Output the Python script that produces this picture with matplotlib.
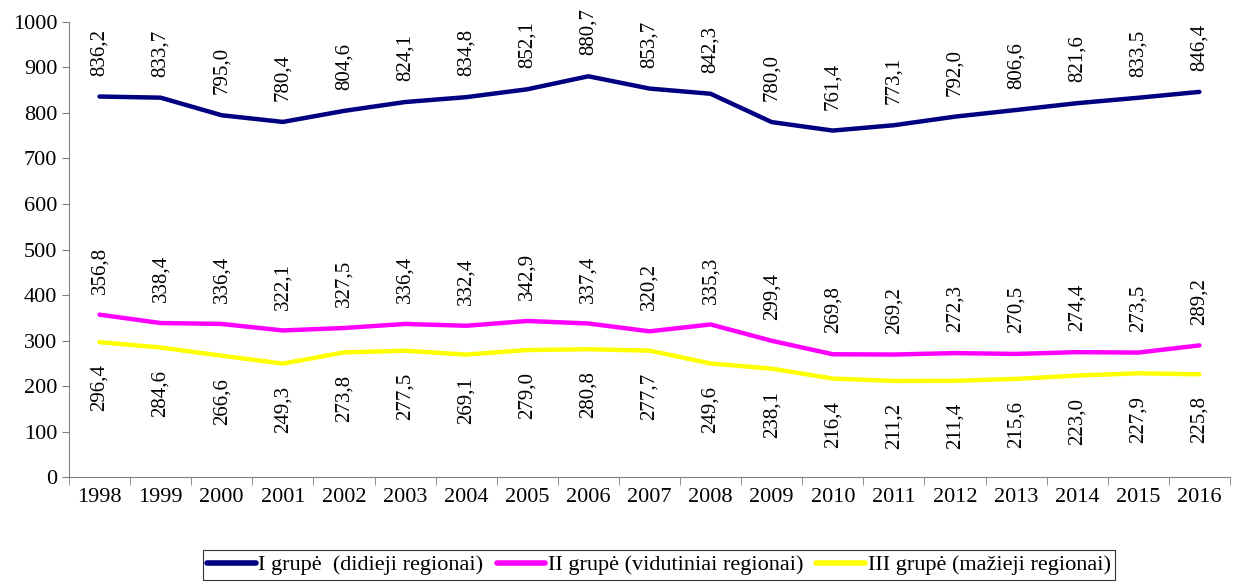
import matplotlib.pyplot as plt
import numpy as np

plt.rcParams['font.family'] = ['Liberation Serif', 'DejaVu Serif']

years = [str(y) for y in range(1998, 2017)]
grupe_1 = [836.2, 833.7, 795.0, 780.4, 804.6, 824.1, 834.8, 852.1, 880.7, 853.7,
           842.3, 780.0, 761.4, 773.1, 792.0, 806.6, 821.6, 833.5, 846.4]
grupe_2 = [356.8, 338.4, 336.4, 322.1, 327.5, 336.4, 332.4, 342.9, 337.4, 320.2,
           335.3, 299.4, 269.8, 269.2, 272.3, 270.5, 274.4, 273.5, 289.2]
grupe_3 = [296.4, 284.6, 266.6, 249.3, 273.8, 277.5, 269.1, 279.0, 280.8, 277.7,
           249.6, 238.1, 216.4, 211.2, 211.4, 215.6, 223.0, 227.9, 225.8]
names = ['I grupė  (didieji regionai)', 'II grupė (vidutiniai regionai)',
         'III grupė (mažieji regionai)']
colors = ['#000080', '#FF00FF', '#FFFF00']

fig = plt.figure(figsize=(12.43, 5.85), dpi=100)
ax = fig.add_axes([0.0555, 0.1846, 0.934, 0.7778])

x = np.arange(len(years))
series = [grupe_1, grupe_2, grupe_3]
for vals, name, c in zip(series, names, colors):
    ax.plot(x, vals, color=c, lw=3.2, label=name, solid_capstyle='round')

def fmt(v):
    return f'{v:.1f}'.replace('.', ',')

# nad linijomis: I ir II grupė, po linija: III grupė
for vals, above in [(grupe_1, True), (grupe_2, True), (grupe_3, False)]:
    for xi, v in zip(x, vals):
        if above:
            ax.annotate(fmt(v), (xi, v), xytext=(0, 15), textcoords='offset points',
                        rotation=90, ha='center', va='bottom', fontsize=15)
        else:
            ax.annotate(fmt(v), (xi, v), xytext=(0, -16), textcoords='offset points',
                        rotation=90, ha='center', va='top', fontsize=15)

ax.set_xlim(-0.5, len(years) - 0.5)
ax.set_ylim(0, 1000)
ax.set_yticks(range(0, 1001, 100))
ax.tick_params(axis='y', labelsize=16, direction='out', length=5, color='#808080')
ax.set_xticks(x)
ax.set_xticklabels(years, fontsize=16)
ax.set_xticks(np.arange(-0.5, len(years)), minor=True)
ax.tick_params(axis='x', which='major', length=0, pad=8)
ax.tick_params(axis='x', which='minor', length=6, color='#808080')

for s in ['top', 'right']:
    ax.spines[s].set_visible(False)
for s in ['left', 'bottom']:
    ax.spines[s].set_color('#808080')

leg = fig.legend(loc='center', bbox_to_anchor=(0.53, 0.034), ncol=3, fontsize=16,
                 frameon=True, fancybox=False, edgecolor='black', handlelength=2.2,
                 handletextpad=0.1, columnspacing=0.6, borderpad=0.2)
leg.get_frame().set_linewidth(0.8)
for line in leg.get_lines():
    line.set_linewidth(4)

fig.savefig('out.png', dpi=100)
